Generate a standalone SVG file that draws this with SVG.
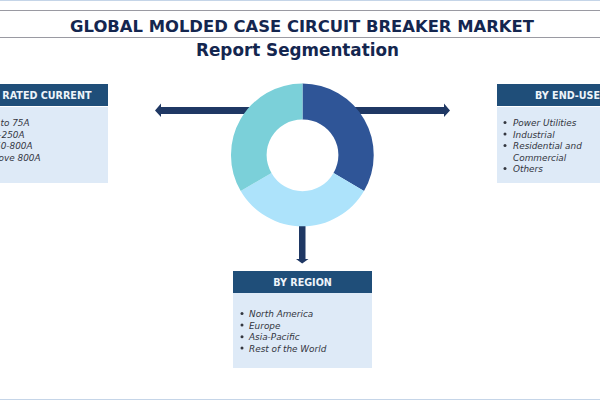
<svg xmlns="http://www.w3.org/2000/svg" width="600" height="400" viewBox="0 0 600 400">
<style>
text{font-family:"DejaVu Sans","Liberation Sans",sans-serif}
.t{font-weight:700;fill:#14264f;text-anchor:middle}
.h{font-weight:700;fill:#eef4fa;font-size:9.6px}
.b{font-style:italic;fill:#33363f;font-size:8.9px}
.e{text-anchor:end}
.hd{fill:#1f4e79}.bd{fill:#deeaf7}
.a{fill:#1f3864}
</style>
<defs><circle id="dot" r="1.5" fill="#33363f"/></defs>
<rect width="600" height="400" fill="#fff"/>
<g id="frame">
<rect x="0" y="0" width="600" height="1" fill="#c5d5e8"/>
<rect x="0" y="399" width="600" height="1" fill="#c5d5e8"/>
<rect x="0" y="10" width="600" height="1" fill="#9a9aa2"/>
<rect x="0" y="37" width="600" height="1" fill="#9a9aa2"/>
</g>
<g id="title">
<text class="t" x="302" y="32" font-size="16.400">GLOBAL MOLDED CASE CIRCUIT BREAKER MARKET</text>
<text class="t" x="297.500" y="56" font-size="16.800">Report Segmentation</text>
</g>
<g id="connectors">
<path class="a" d="M252 107H161V103.500L155 110.500L161 117V114H252Z"/>
<path class="a" d="M355 107H444V103.500L450 110.500L444 117V114H355Z"/>
<path class="a" d="M299 226H305.500V259H308.500L302.200 263.500L296 259H299Z"/>
</g>
<g id="donut">
<path fill="#2f5597" d="M302.500 83.500A71.500 71.500 0 0 1 364 191L333.500 173A35.500 35.500 0 0 0 302.500 119.500Z"/>
<path fill="#ade3fb" d="M364 191A71.500 71.500 0 0 1 240.700 191L271.500 173A35.500 35.500 0 0 0 333.500 173Z"/>
<path fill="#7bd0d9" d="M240.700 191A71.500 71.500 0 0 1 302.500 83.500V119.500A35.500 35.500 0 0 0 271.500 173Z"/>
</g>
<g id="rated-current">
<rect class="bd" x="0" y="107" width="108" height="76"/>
<rect class="hd" x="0" y="84" width="108" height="22"/>
<text class="h e" x="91.500" y="99">BY RATED CURRENT</text>
<text class="b e" x="29.500" y="126">Up to 75A</text>
<text class="b e" x="24.500" y="137.500">75-250A</text>
<text class="b e" x="32.500" y="149">250-800A</text>
<text class="b e" x="40.500" y="160.500">Above 800A</text>
</g>
<g id="end-use">
<rect class="bd" x="497" y="107" width="103" height="76"/>
<rect class="hd" x="497" y="84" width="103" height="22"/>
<text class="h" x="535" y="99">BY END-USE</text>
<use href="#dot" x="505" y="122.500"/><use href="#dot" x="505" y="134"/><use href="#dot" x="505" y="145.500"/><use href="#dot" x="505" y="168.500"/>
<text class="b" x="513" y="126">Power Utilities</text>
<text class="b" x="513" y="137.500">Industrial</text>
<text class="b" x="513" y="149">Residential and</text>
<text class="b" x="513" y="160.500">Commercial</text>
<text class="b" x="513" y="172">Others</text>
</g>
<g id="region">
<rect class="bd" x="233" y="293" width="139" height="75"/>
<rect class="hd" x="233" y="271" width="139" height="22"/>
<text class="h" x="302.500" y="285.500" text-anchor="middle">BY REGION</text>
<use href="#dot" x="242" y="313.500"/><use href="#dot" x="242" y="325"/><use href="#dot" x="242" y="336.700"/><use href="#dot" x="242" y="348"/>
<text class="b" x="249" y="317">North America</text>
<text class="b" x="249" y="328.500">Europe</text>
<text class="b" x="249" y="340">Asia-Pacific</text>
<text class="b" x="249" y="351.500">Rest of the World</text>
</g>
</svg>
